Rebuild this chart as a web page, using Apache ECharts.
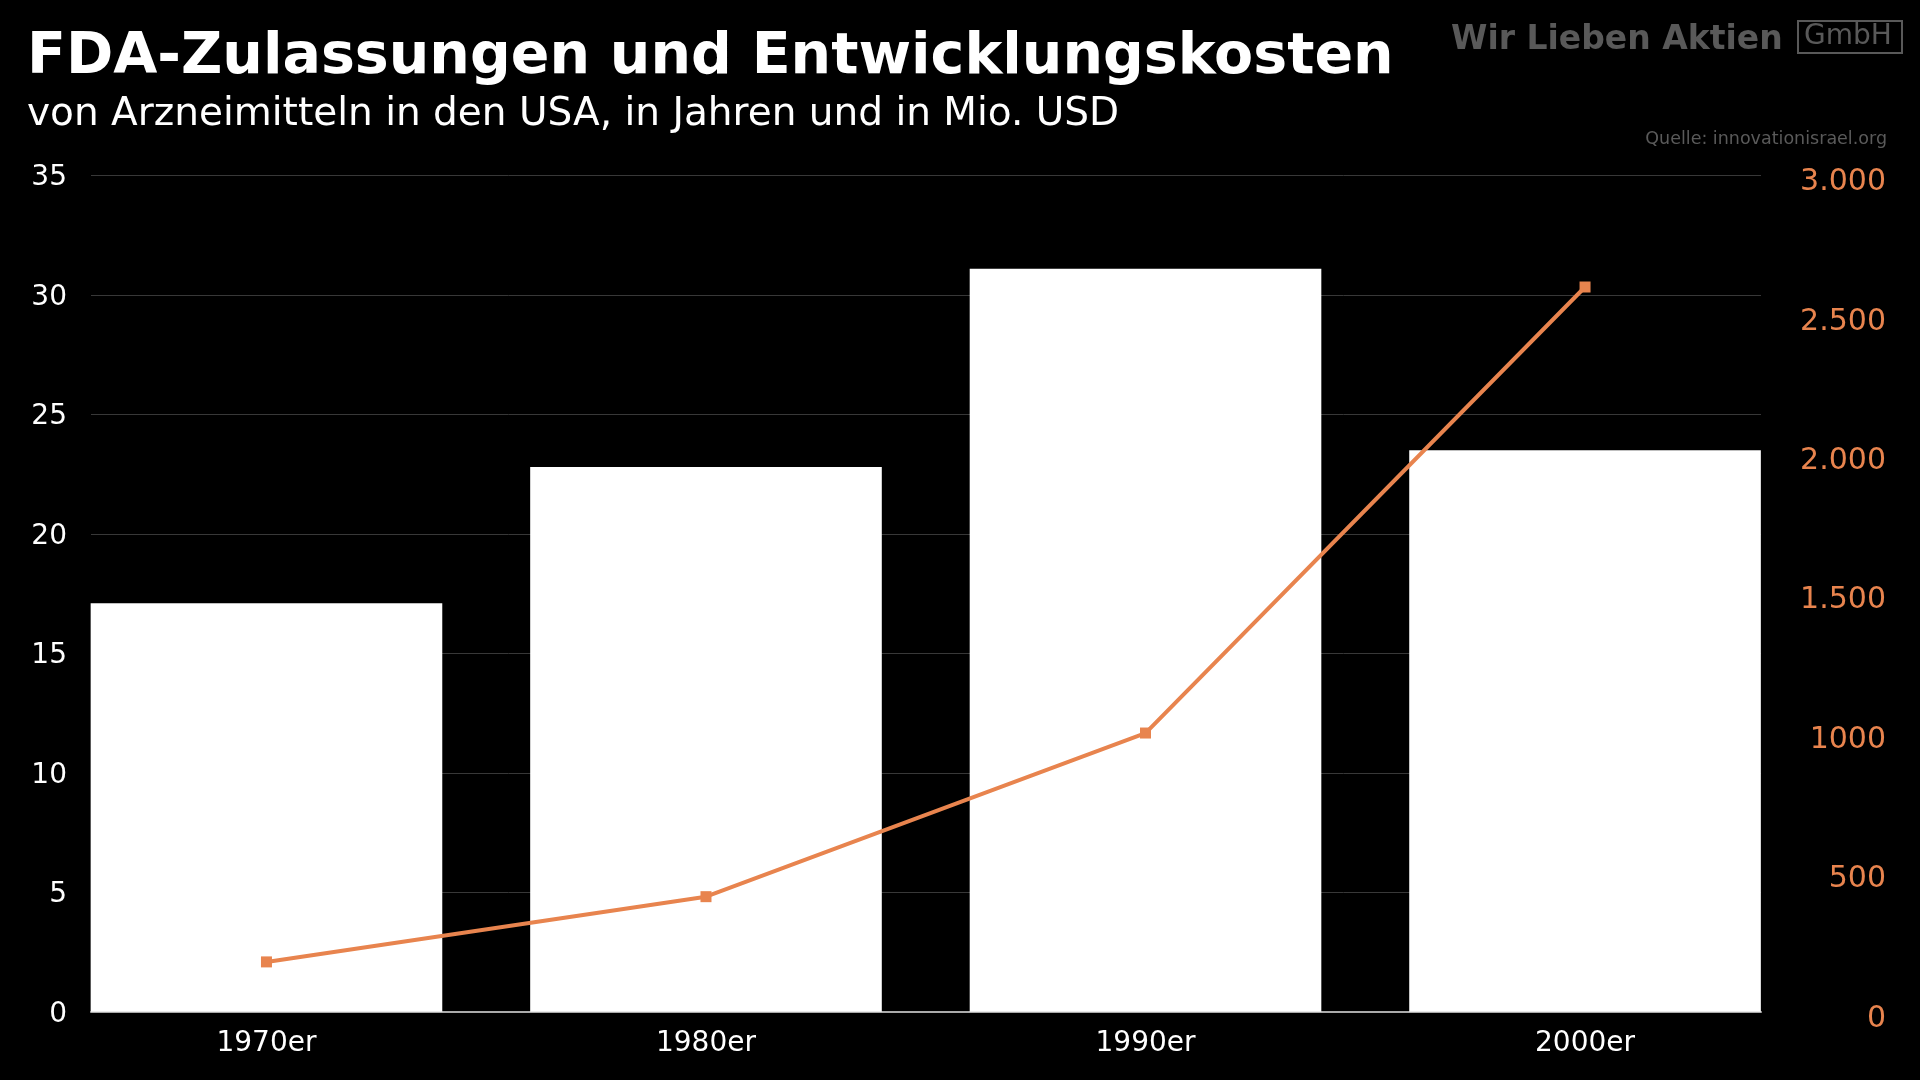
<!DOCTYPE html>
<html><head><meta charset="utf-8">
<script src="https://cdn.jsdelivr.net/npm/echarts@6/dist/echarts.min.js"></script>
<style>html,body{margin:0;padding:0;background:#000}#c{width:1920px;height:1080px}</style>
</head><body><div id="c"></div>
<script>
const categories = ['1970er', '1980er', '1990er', '2000er'];
const approvalYears = [17.1, 22.8, 31.1, 23.5];
const costMioUSD = [179, 413, 1000, 2600];
const rightTickLabels = ['0', '500', '1000', '1.500', '2.000', '2.500', '3.000'];
const titleText = 'FDA-Zulassungen und Entwicklungskosten';
const subtitleText = 'von Arzneimitteln in den USA, in Jahren und in Mio. USD';
const sourceText = 'Quelle: innovationisrael.org';

const ORANGE = '#E8844E';
const FONT = 'DejaVu Sans';
const chart = echarts.init(document.getElementById('c'), null, {renderer: 'canvas'});
chart.setOption({
  backgroundColor: '#000',
  animation: false,
  textStyle: {fontFamily: FONT},
  grid: [
    {left: 91, right: 159, top: 175.5, bottom: 68.2},
    {left: 46.7, right: 115.2, top: 175.5, bottom: 68.2}
  ],
  xAxis: [
    {gridIndex: 0, type: 'category', data: categories, axisLabel: {show: false}, axisTick: {show: false},
     axisLine: {lineStyle: {color: '#aaaaaa', width: 2}}},
    {gridIndex: 1, type: 'category', data: categories, axisLine: {show: false}, axisTick: {show: false},
     axisLabel: {color: '#ffffff', fontSize: 28, margin: 18, fontFamily: FONT}}
  ],
  yAxis: [
    {gridIndex: 0, type: 'value', min: 0, max: 35, interval: 5,
     axisLabel: {color: '#ffffff', fontSize: 28, margin: 24, fontFamily: FONT, verticalAlign: 'top', lineHeight: 5},
     axisLine: {show: false}, axisTick: {show: false},
     splitLine: {lineStyle: {color: '#383838', width: 1}}},
    {gridIndex: 0, type: 'value', position: 'right', min: 0, max: 3000, interval: 500,
     axisLabel: {color: ORANGE, fontSize: 30, align: 'right', margin: 125, fontFamily: FONT,
       verticalAlign: 'top', lineHeight: 14,
       formatter: v => rightTickLabels[Math.round(v / 500)]},
     axisLine: {show: false}, axisTick: {show: false}, splitLine: {show: false}},
    {gridIndex: 1, type: 'value', min: 0, max: 35, show: false},
    {gridIndex: 1, type: 'value', min: 0, max: 3000, show: false}
  ],
  series: [
    {type: 'bar', xAxisIndex: 1, yAxisIndex: 2, data: approvalYears, barWidth: '80%',
     itemStyle: {color: '#ffffff'}, z: 2},
    {type: 'line', xAxisIndex: 1, yAxisIndex: 3, data: costMioUSD, symbol: 'rect', symbolSize: 11,
     lineStyle: {color: ORANGE, width: 4}, itemStyle: {color: ORANGE}, z: 3}
  ],
  graphic: [
    {type: 'text', left: 27, top: 30, style: {text: titleText, fill: '#ffffff', font: 'bold 57px "DejaVu Sans"'}},
    {type: 'text', left: 27, top: 95, style: {text: subtitleText, fill: '#ffffff', font: '39px "DejaVu Sans"'}},
    {type: 'text', right: 33, top: 130, style: {text: sourceText, fill: '#5a5a5a', font: '17.5px "DejaVu Sans"'}},
    {type: 'text', left: 1451, top: 24, style: {text: 'Wir Lieben Aktien', fill: '#595959', font: 'bold 33px "DejaVu Sans"'}},
    {type: 'rect', shape: {x: 1798, y: 21, width: 104, height: 32}, style: {fill: 'none', stroke: '#595959', lineWidth: 2}},
    {type: 'text', left: 1804, top: 23, style: {text: 'GmbH', fill: '#595959', font: '28px "DejaVu Sans"'}}
  ]
});
</script></body></html>
